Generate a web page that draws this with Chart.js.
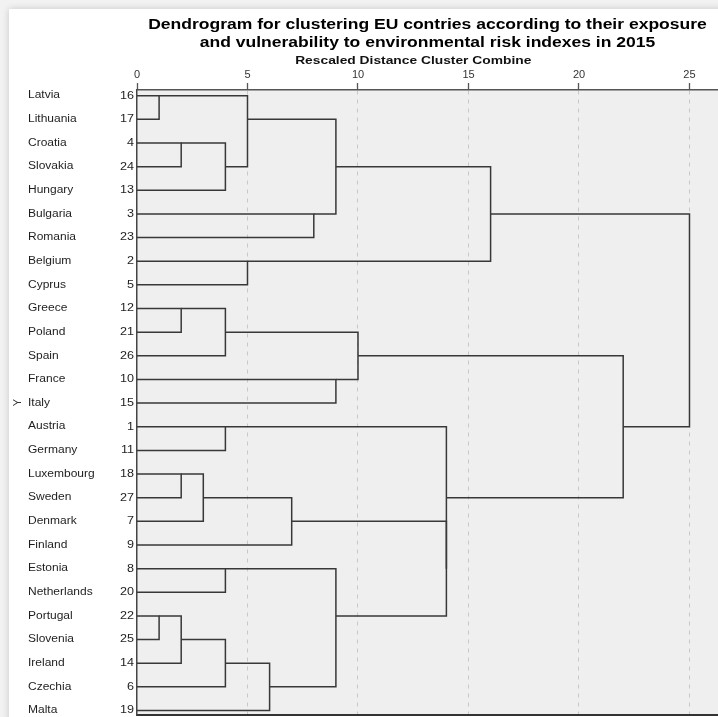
<!DOCTYPE html>
<html>
<head>
<meta charset="utf-8">
<script src="https://cdn.jsdelivr.net/npm/chart.js@4.4.1/dist/chart.umd.min.js"></script>
<style>
  html, body { margin: 0; padding: 0; background: #fff; overflow: hidden; }
  canvas { display: block; }
</style>
</head>
<body>
<canvas id="dendro" width="718" height="717"></canvas>
<script>
// Countries in dendrogram order (top to bottom) and their SPSS case numbers
const countries = ['Latvia', 'Lithuania', 'Croatia', 'Slovakia', 'Hungary', 'Bulgaria', 'Romania',
  'Belgium', 'Cyprus', 'Greece', 'Poland', 'Spain', 'France', 'Italy', 'Austria', 'Germany',
  'Luxembourg', 'Sweden', 'Denmark', 'Finland', 'Estonia', 'Netherlands', 'Portugal', 'Slovenia',
  'Ireland', 'Czechia', 'Malta'];
const caseNumbers = [16, 17, 4, 24, 13, 3, 23, 2, 5, 12, 21, 26, 10, 15, 1, 11, 18, 27, 7, 9, 8, 20, 22, 25, 14, 6, 19];

// Agglomeration schedule: ids 0-26 are the countries above,
// id 27 + k is the cluster created at step k.
const mergeFirst    = [0, 22, 2, 9, 16, 28, 31, 29, 30, 14, 20, 32, 27, 7, 38, 33, 5, 39, 12, 37, 35, 42, 36, 44, 47, 50];
const mergeSecond   = [1, 23, 3, 10, 17, 24, 18, 4, 11, 15, 21, 25, 34, 8, 26, 19, 6, 43, 13, 41, 45, 46, 48, 40, 49, 51];
const mergeDistance = [1, 1, 2, 2, 2, 2, 3, 4, 4, 4, 4, 4, 5, 5, 6, 7, 8, 9, 9, 9, 10, 14, 14, 16, 22, 25];

// Rescaled distance axis ticks
const distanceTicks = [0, 5, 10, 15, 20, 25];

const titleLines = ['Dendrogram for clustering EU contries according to their exposure',
  'and vulnerability to environmental risk indexes in 2015'];
const axisTitle = 'Rescaled Distance Cluster Combine';

const LINE_COLOR = '#383838';
const FONT = '"Liberation Sans", Arial, sans-serif';
const STRETCH = 1.2;

// Build one elbow polyline per merge; a cluster sits on the row halfway
// (rounded up the list) between the rows of its two members.
const nodeRow = countries.map((_, i) => i);
const nodeHeight = countries.map(() => 0);
const datasets = [];
mergeFirst.forEach((a, k) => {
  const b = mergeSecond[k];
  const h = mergeDistance[k];
  const ra = nodeRow[a], rb = nodeRow[b];
  datasets.push({
    data: [
      { x: nodeHeight[a], y: ra },
      { x: h, y: ra },
      { x: h, y: rb },
      { x: nodeHeight[b], y: rb }
    ],
    xAxisID: 'x',
    yAxisID: 'y',
    showLine: true,
    borderColor: LINE_COLOR,
    borderWidth: 1.5,
    pointRadius: 0,
    pointHoverRadius: 0,
    tension: 0,
    fill: false,
    clip: 4
  });
  nodeRow.push(Math.floor((ra + rb) / 2));
  nodeHeight.push(h);
});

function stretchedText(ctx, text, x, y, align, font, color) {
  ctx.save();
  ctx.translate(x, y);
  ctx.scale(STRETCH, 1);
  ctx.font = font;
  ctx.fillStyle = color;
  ctx.textAlign = align;
  ctx.textBaseline = 'middle';
  ctx.fillText(text, 0, 0);
  ctx.restore();
}

const decorPlugin = {
  id: 'decor',
  beforeDraw(chart) {
    const { ctx, chartArea: a, width, height } = chart;
    ctx.save();
    ctx.fillStyle = '#f2f2f2';
    ctx.fillRect(0, 0, width, height);
    ctx.shadowColor = 'rgba(0,0,0,0.18)';
    ctx.shadowBlur = 7;
    ctx.fillStyle = '#ffffff';
    ctx.fillRect(9, 9, width + 30, height + 30);
    ctx.shadowColor = 'transparent';
    ctx.shadowBlur = 0;
    ctx.fillStyle = '#efefef';
    ctx.fillRect(a.left, a.top, a.right - a.left, a.bottom - a.top);
    ctx.restore();
  },
  afterDraw(chart) {
    const { ctx, chartArea: a } = chart;
    const xs = chart.scales.x;
    const ys = chart.scales.y;
    const cx = (a.left + a.right) / 2;
    stretchedText(ctx, titleLines[0], cx, 25, 'center', 'bold 14.6px ' + FONT, '#000');
    stretchedText(ctx, titleLines[1], cx, 43, 'center', 'bold 14.6px ' + FONT, '#000');
    const mid = (xs.getPixelForValue(distanceTicks[0]) + xs.getPixelForValue(distanceTicks[distanceTicks.length - 1])) / 2;
    stretchedText(ctx, axisTitle, mid, 61, 'center', 'bold 11.5px ' + FONT, '#111');
    countries.forEach((name, i) => {
      const y = ys.getPixelForValue(i);
      stretchedText(ctx, name, 28, y, 'left', '10px ' + FONT, '#1e1e1e');
      stretchedText(ctx, String(caseNumbers[i]), 134, y, 'right', '10.5px ' + FONT, '#1e1e1e');
    });
  }
};

new Chart(document.getElementById('dendro'), {
  type: 'scatter',
  data: { datasets },
  plugins: [decorPlugin],
  options: {
    responsive: false,
    animation: false,
    events: [],
    layout: { padding: { top: 52, left: 0, right: 0, bottom: 2 } },
    plugins: {
      legend: { display: false },
      tooltip: { enabled: false },
      title: { display: false }
    },
    scales: {
      x: {
        type: 'linear',
        position: 'top',
        min: 0,
        max: 26.29,
        afterBuildTicks: s => { s.ticks = distanceTicks.map(v => ({ value: v })); },
        afterFit: s => { s.height = 38; },
        ticks: {
          font: { family: FONT, size: 11 },
          color: '#333',
          padding: 1,
          maxRotation: 0,
          autoSkip: false
        },
        grid: {
          color: c => (c.tick && c.tick.value === 0) ? 'rgba(0,0,0,0)' : '#c8c8c8',
          lineWidth: 1,
          tickLength: 7,
          tickColor: '#555',
          tickWidth: 1.3,
          tickBorderDash: []
        },
        border: { display: true, color: '#555', width: 1.5, dash: [4, 5] }
      },
      xEdge: {
        type: 'linear',
        position: 'bottom',
        min: 0,
        max: 26.29,
        ticks: { display: false },
        grid: { display: false, drawTicks: false },
        border: { display: true, color: '#333', width: 2 },
        afterFit: s => { s.height = 0; }
      },
      y: {
        type: 'linear',
        position: 'left',
        reverse: true,
        min: -0.241,
        max: 26.19,
        afterFit: s => { s.width = 137; },
        ticks: { display: false },
        grid: { display: false, drawTicks: false },
        border: { display: true, color: '#444', width: 1.5 },
        title: {
          display: true,
          text: 'Y',
          color: '#333',
          font: { family: FONT, size: 11 },
          padding: { top: 11, bottom: 0 }
        }
      }
    }
  }
});
</script>
</body>
</html>
